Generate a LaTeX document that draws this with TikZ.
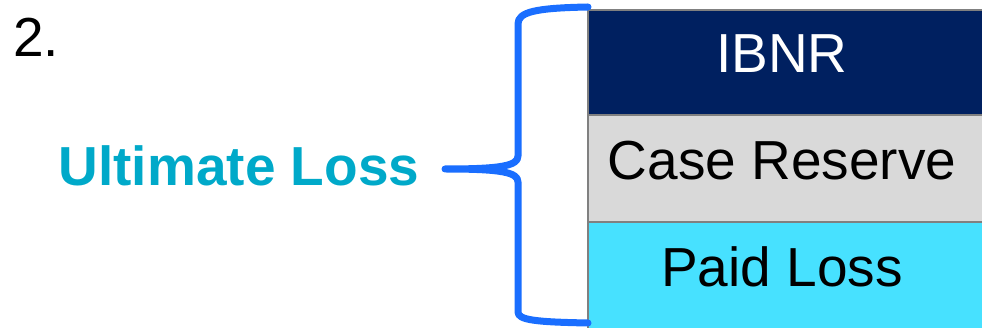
\documentclass[tikz,border=0pt]{standalone}
\usepackage{fontspec}
\setmainfont{Liberation Sans}
\definecolor{navy}{HTML}{002060}
\definecolor{lightgray}{HTML}{D9D9D9}
\definecolor{paidcyan}{HTML}{47E1FF}
\definecolor{teal}{HTML}{00A9C9}
\definecolor{braceblue}{HTML}{1A6EFF}
\definecolor{edgegray}{HTML}{808080}
\begin{document}
\begin{tikzpicture}[x=1pt,y=-1pt,
  bigtext/.style={inner sep=0pt,font=\fontsize{55}{66}\selectfont},
  layer/.style={draw=edgegray,line width=2pt},
  bracepath/.style={draw=braceblue,line width=7pt,line cap=round,line join=round}]
\useasboundingbox (0,0) rectangle (982,328);

% stacked layers of the ultimate loss
\path[layer,fill=navy]      (588,10)  rectangle (995,115);
\path[layer,fill=lightgray] (588,115) rectangle (995,222);
\path[layer,fill=paidcyan]  (588,222) rectangle (995,340);

\node[bigtext,anchor=base,text=white] (ibnr) at (782,73)  {IBNR};
\node[bigtext,anchor=base] (case) at (782,180) {Case Reserve};
\node[bigtext,anchor=base] (paid) at (782,287) {Paid Loss};

% item number and label
\node[bigtext,anchor=base west] (num) at (13,57) {2.};
\node[bigtext,anchor=base,text=teal,font=\fontsize{55}{66}\selectfont\bfseries] (ult) at (239,186) {Ultimate Loss};

% curly brace joining the label to the stack
\coordinate (btop) at (588,7);
\coordinate (bbot) at (588,323);
\coordinate (tip) at (445,169);
\path[bracepath] (btop) .. controls (535,8) and (518,12) .. (518,24)
  -- (518,156) .. controls (518,166) and (500,169) .. (tip)
  .. controls (500,169) and (518,172) .. (518,182)
  -- (518,312) .. controls (518,320) and (535,322) .. (bbot);
\end{tikzpicture}
\end{document}
